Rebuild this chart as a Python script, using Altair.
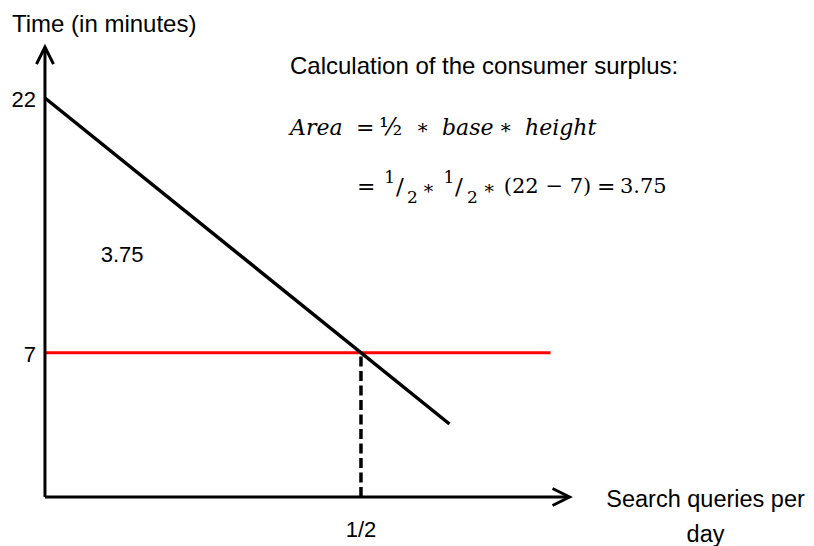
import altair as alt
import pandas as pd

# ---- data ----
demand_x = [0.0, 0.64]          # demand curve end points (queries/day)
demand_y = [22.0, 2.8]          # time in minutes
price_level = 7                 # horizontal (red) line
price_x = [0.0, 0.80]
quantity = 0.5                  # dashed vertical line
axis_x_end = 0.83
axis_y_end = 25.0
axis_base_y = -1.5              # schematic origin of the drawn x-axis
y_tick_values = [22, 7]
y_tick_labels = ["22", "7"]
x_tick_value = 0.5
x_tick_label = "1/2"
surplus_label = "3.75"
surplus_pos = (0.122, 12.75)

y_title = "Time (in minutes)"
x_title = ["Search queries per", "day"]
calc_title = "Calculation of the consumer surplus:"

# formula pieces: text, x, y, font size, italic
math_text = ["Area", "=", "½", "∗", "base", "∗", "height",
             "=", "1", "/", "2", "∗", "1", "/", "2", "∗", "(22 − 7)", "=", "3.75"]
math_x = [0.3877, 0.4921, 0.5285, 0.5870, 0.6282, 0.7184, 0.7595,
          0.4937, 0.5370, 0.5554, 0.5728, 0.5965, 0.6305, 0.6487, 0.6676, 0.6925, 0.7260, 0.8734, 0.9098]
math_y = [20.23, 20.23, 20.23, 20.23, 20.23, 20.23, 20.23,
          16.76, 17.30, 16.76, 16.10, 16.70, 17.30, 16.76, 16.10, 16.70, 16.76, 16.76, 16.76]
math_size = [22, 22, 24, 20, 22, 20, 22,
             22, 17, 23, 17, 19, 17, 23, 17, 19, 21, 22, 21]
math_italic = [True, False, False, False, True, False, True,
               False, False, False, False, False, False, False, False, False, False, False, False]

W, H = 798, 538
XD = [-0.0585, -0.0585 + W / 632]
YD = [27.300 - H / 16.98, 27.300]
xs = alt.Scale(domain=XD, nice=False, zero=False)
ys = alt.Scale(domain=YD, nice=False, zero=False)

def X(f="x"):
    return alt.X(f"{f}:Q", scale=xs, axis=None)

def Y(f="y"):
    return alt.Y(f"{f}:Q", scale=ys, axis=None)

SANS = "Liberation Sans"
SERIF = "DejaVu Serif"

# axes
axes_df = pd.DataFrame({
    "x": [0.0, 0.0], "x2": [0.0, axis_x_end],
    "y": [axis_base_y, axis_base_y], "y2": [axis_y_end, axis_base_y],
})
axes = alt.Chart(axes_df).mark_rule(color="black", strokeWidth=3).encode(
    x=X(), x2="x2:Q", y=Y(), y2="y2:Q")

arrow_right = alt.Chart(pd.DataFrame({"x": [axis_x_end], "y": [axis_base_y]})).mark_point(
    shape="M-2,-1L0,0L-2,1", size=289, filled=False, color="black", strokeWidth=3,
    opacity=1).encode(x=X(), y=Y())
arrow_up = alt.Chart(pd.DataFrame({"x": [0.0], "y": [axis_y_end]})).mark_point(
    shape="M-1,2L0,0L1,2", size=289, filled=False, color="black", strokeWidth=3,
    opacity=1).encode(x=X(), y=Y())

demand = alt.Chart(pd.DataFrame({"x": demand_x, "y": demand_y})).mark_line(
    color="black", strokeWidth=3.5).encode(x=X(), y=Y())

price = alt.Chart(pd.DataFrame({"x": [price_x[0]], "x2": [price_x[1]], "y": [price_level]})).mark_rule(
    color="#ff0000", strokeWidth=3).encode(x=X(), x2="x2:Q", y=Y())

dashed = alt.Chart(pd.DataFrame({"x": [quantity], "y": [axis_base_y], "y2": [price_level]})).mark_rule(
    color="black", strokeWidth=3.5, strokeDash=[10, 4.5]).encode(x=X(), y=Y(), y2="y2:Q")

# tick labels
ytick = alt.Chart(pd.DataFrame({"x": [0.0, 0.0], "y": y_tick_values, "t": y_tick_labels})).mark_text(
    font=SANS, fontSize=22, align="right", baseline="middle", dx=-9, dy=2, color="black").encode(
    x=X(), y=Y(), text="t:N")
xtick = alt.Chart(pd.DataFrame({"x": [x_tick_value], "y": [axis_base_y], "t": [x_tick_label]})).mark_text(
    font=SANS, fontSize=22, align="center", baseline="middle", dy=33, color="black").encode(
    x=X(), y=Y(), text="t:N")

surplus = alt.Chart(pd.DataFrame({"x": [surplus_pos[0]], "y": [surplus_pos[1]], "t": [surplus_label]})).mark_text(
    font=SANS, fontSize=22, align="center", baseline="middle", color="black").encode(
    x=X(), y=Y(), text="t:N")

ytitle = alt.Chart(pd.DataFrame({"x": [0.0], "y": [axis_y_end], "t": [y_title]})).mark_text(
    font=SANS, fontSize=24, align="left", baseline="middle", dx=-33, dy=-22, color="black").encode(
    x=X(), y=Y(), text="t:N")

xtitle = alt.Chart(pd.DataFrame({"x": [axis_x_end], "y": [axis_base_y], "t": [x_title]})).mark_text(
    font=SANS, fontSize=23.5, align="center", baseline="middle", dx=136, dy=3, lineHeight=35,
    color="black").encode(x=X(), y=Y(), text="t")

calc = alt.Chart(pd.DataFrame({"x": [0.3877], "y": [23.83], "t": [calc_title]})).mark_text(
    font=SANS, fontSize=24, align="left", baseline="middle", color="black").encode(
    x=X(), y=Y(), text="t:N")

math_df = pd.DataFrame({"t": math_text, "x": math_x, "y": math_y,
                        "s": math_size, "it": math_italic})
math_it = alt.Chart(math_df).transform_filter("datum.it").mark_text(
    font=SERIF, fontStyle="italic", align="left", baseline="middle", color="black").encode(
    x=X(), y=Y(), text="t:N", size=alt.Size("s:Q", scale=None, legend=None))
math_up = alt.Chart(math_df).transform_filter("!datum.it").mark_text(
    font=SERIF, align="left", baseline="middle", color="black").encode(
    x=X(), y=Y(), text="t:N", size=alt.Size("s:Q", scale=None, legend=None))

chart = alt.layer(
    price, dashed, demand, axes, arrow_right, arrow_up,
    ytick, xtick, surplus, ytitle, xtitle, calc, math_it, math_up,
).properties(
    width=W, height=H, padding=0, autosize=alt.AutoSizeParams(type="none"),
    background="white",
).configure_view(stroke=None)

chart.save("out.html", embed_options={"renderer": "svg", "actions": False})
